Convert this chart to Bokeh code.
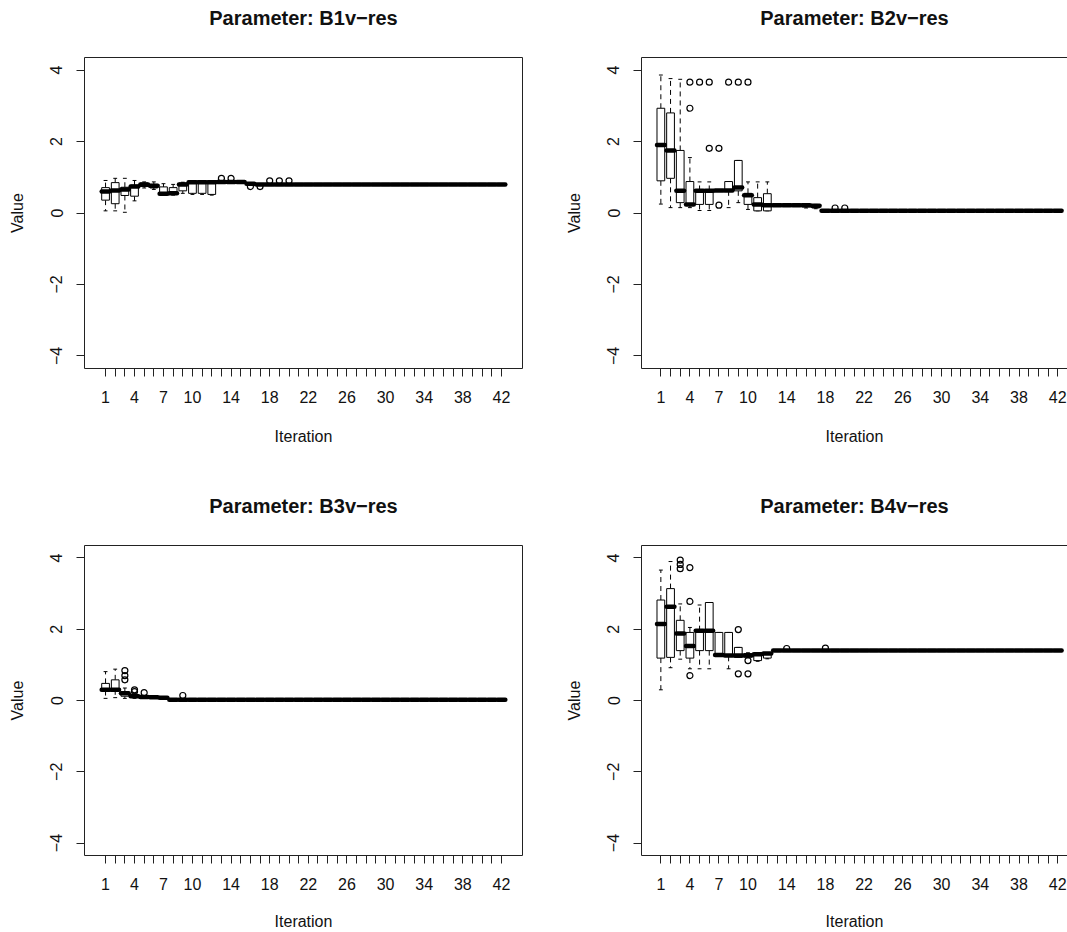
from bokeh.plotting import figure
from bokeh.models import FixedTicker, LinearAxis, Range1d, ColumnDataSource
from bokeh.transform import dodge
from bokeh.layouts import row, column
from bokeh.embed import file_html
from bokeh.resources import INLINE

iters = list(range(1, 43))
x_tick_labels = ["1", "4", "7", "10", "14", "18", "22", "26", "30", "34", "38", "42"]
y_ticks = [-4, -2, 0, 2, 4]

titles = ["Parameter: B1v\u2212res", "Parameter: B2v\u2212res",
          "Parameter: B3v\u2212res", "Parameter: B4v\u2212res"]

# ---------------- B1v-res ----------------
b1_med = [0.60, 0.63, 0.66, 0.74, 0.80, 0.76, 0.54, 0.55, 0.80, 0.86, 0.86, 0.86,
          0.87, 0.87, 0.87, 0.82, 0.80, 0.80, 0.80, 0.80, 0.80, 0.80, 0.80, 0.80,
          0.80, 0.80, 0.80, 0.80, 0.80, 0.80, 0.80, 0.80, 0.80, 0.80, 0.80, 0.80,
          0.80, 0.80, 0.80, 0.80, 0.80, 0.80]
b1_q1 = [0.36, 0.26, 0.49, 0.47, 0.74, 0.70, 0.52, 0.52, 0.62, 0.55, 0.55, 0.52,
         0.87, 0.87, 0.87, 0.82, 0.80, 0.80, 0.80, 0.80, 0.80, 0.80, 0.80, 0.80,
         0.80, 0.80, 0.80, 0.80, 0.80, 0.80, 0.80, 0.80, 0.80, 0.80, 0.80, 0.80,
         0.80, 0.80, 0.80, 0.80, 0.80, 0.80]
b1_q3 = [0.71, 0.85, 0.72, 0.78, 0.84, 0.80, 0.73, 0.71, 0.84, 0.87, 0.87, 0.87,
         0.87, 0.87, 0.87, 0.82, 0.80, 0.80, 0.80, 0.80, 0.80, 0.80, 0.80, 0.80,
         0.80, 0.80, 0.80, 0.80, 0.80, 0.80, 0.80, 0.80, 0.80, 0.80, 0.80, 0.80,
         0.80, 0.80, 0.80, 0.80, 0.80, 0.80]
b1_lo = [0.06, 0.06, 0.02, 0.34, 0.70, 0.66, 0.50, 0.50, 0.55, 0.52, 0.52, 0.50,
         0.87, 0.87, 0.87, 0.82, 0.80, 0.80, 0.80, 0.80, 0.80, 0.80, 0.80, 0.80,
         0.80, 0.80, 0.80, 0.80, 0.80, 0.80, 0.80, 0.80, 0.80, 0.80, 0.80, 0.80,
         0.80, 0.80, 0.80, 0.80, 0.80, 0.80]
b1_hi = [0.91, 0.97, 0.97, 0.91, 0.87, 0.87, 0.82, 0.80, 0.86, 0.87, 0.87, 0.87,
         0.87, 0.87, 0.87, 0.82, 0.80, 0.80, 0.80, 0.80, 0.80, 0.80, 0.80, 0.80,
         0.80, 0.80, 0.80, 0.80, 0.80, 0.80, 0.80, 0.80, 0.80, 0.80, 0.80, 0.80,
         0.80, 0.80, 0.80, 0.80, 0.80, 0.80]
b1_out_x = [13, 14, 16, 17, 18, 19, 20]
b1_out_y = [0.97, 0.97, 0.74, 0.74, 0.90, 0.90, 0.90]

# ---------------- B2v-res ----------------
b2_med = [1.90, 1.75, 0.62, 0.24, 0.62, 0.62, 0.63, 0.63, 0.71, 0.50, 0.24, 0.22,
          0.22, 0.22, 0.22, 0.22, 0.20, 0.06, 0.06, 0.06, 0.06, 0.06, 0.06, 0.06,
          0.06, 0.06, 0.06, 0.06, 0.06, 0.06, 0.06, 0.06, 0.06, 0.06, 0.06, 0.06,
          0.06, 0.06, 0.06, 0.06, 0.06, 0.06]
b2_q1 = [0.90, 0.97, 0.29, 0.22, 0.24, 0.24, 0.63, 0.62, 0.62, 0.24, 0.06, 0.06,
         0.22, 0.22, 0.22, 0.17, 0.14, 0.06, 0.06, 0.06, 0.06, 0.06, 0.06, 0.06,
         0.06, 0.06, 0.06, 0.06, 0.06, 0.06, 0.06, 0.06, 0.06, 0.06, 0.06, 0.06,
         0.06, 0.06, 0.06, 0.06, 0.06, 0.06]
b2_q3 = [2.93, 2.80, 1.75, 0.88, 0.63, 0.63, 0.63, 0.88, 1.47, 0.55, 0.43, 0.54,
         0.22, 0.22, 0.22, 0.24, 0.22, 0.06, 0.06, 0.06, 0.06, 0.06, 0.06, 0.06,
         0.06, 0.06, 0.06, 0.06, 0.06, 0.06, 0.06, 0.06, 0.06, 0.06, 0.06, 0.06,
         0.06, 0.06, 0.06, 0.06, 0.06, 0.06]
b2_lo = [0.25, 0.15, 0.15, 0.15, 0.07, 0.07, 0.63, 0.15, 0.29, 0.10, 0.06, 0.06,
         0.22, 0.22, 0.22, 0.14, 0.12, 0.06, 0.06, 0.06, 0.06, 0.06, 0.06, 0.06,
         0.06, 0.06, 0.06, 0.06, 0.06, 0.06, 0.06, 0.06, 0.06, 0.06, 0.06, 0.06,
         0.06, 0.06, 0.06, 0.06, 0.06, 0.06]
b2_hi = [3.86, 3.76, 3.74, 1.55, 0.87, 0.87, 0.63, 0.88, 1.47, 0.87, 0.87, 0.87,
         0.22, 0.22, 0.22, 0.26, 0.24, 0.06, 0.06, 0.06, 0.06, 0.06, 0.06, 0.06,
         0.06, 0.06, 0.06, 0.06, 0.06, 0.06, 0.06, 0.06, 0.06, 0.06, 0.06, 0.06,
         0.06, 0.06, 0.06, 0.06, 0.06, 0.06]
b2_out_x = [4, 4, 5, 6, 6, 7, 7, 8, 9, 10, 19, 20]
b2_out_y = [2.93, 3.66, 3.66, 3.66, 1.81, 1.81, 0.22, 3.66, 3.66, 3.66, 0.14, 0.14]

# ---------------- B3v-res ----------------
b3_med = [0.30, 0.30, 0.20, 0.12, 0.10, 0.09, 0.08, 0.02, 0.02, 0.02, 0.02, 0.02,
          0.02, 0.02, 0.02, 0.02, 0.02, 0.02, 0.02, 0.02, 0.02, 0.02, 0.02, 0.02,
          0.02, 0.02, 0.02, 0.02, 0.02, 0.02, 0.02, 0.02, 0.02, 0.02, 0.02, 0.02,
          0.02, 0.02, 0.02, 0.02, 0.02, 0.02]
b3_q1 = [0.28, 0.30, 0.12, 0.10, 0.08, 0.08, 0.07, 0.02, 0.02, 0.02, 0.02, 0.02,
         0.02, 0.02, 0.02, 0.02, 0.02, 0.02, 0.02, 0.02, 0.02, 0.02, 0.02, 0.02,
         0.02, 0.02, 0.02, 0.02, 0.02, 0.02, 0.02, 0.02, 0.02, 0.02, 0.02, 0.02,
         0.02, 0.02, 0.02, 0.02, 0.02, 0.02]
b3_q3 = [0.48, 0.58, 0.24, 0.16, 0.12, 0.10, 0.09, 0.02, 0.02, 0.02, 0.02, 0.02,
         0.02, 0.02, 0.02, 0.02, 0.02, 0.02, 0.02, 0.02, 0.02, 0.02, 0.02, 0.02,
         0.02, 0.02, 0.02, 0.02, 0.02, 0.02, 0.02, 0.02, 0.02, 0.02, 0.02, 0.02,
         0.02, 0.02, 0.02, 0.02, 0.02, 0.02]
b3_lo = [0.06, 0.08, 0.06, 0.06, 0.06, 0.07, 0.06, 0.02, 0.02, 0.02, 0.02, 0.02,
         0.02, 0.02, 0.02, 0.02, 0.02, 0.02, 0.02, 0.02, 0.02, 0.02, 0.02, 0.02,
         0.02, 0.02, 0.02, 0.02, 0.02, 0.02, 0.02, 0.02, 0.02, 0.02, 0.02, 0.02,
         0.02, 0.02, 0.02, 0.02, 0.02, 0.02]
b3_hi = [0.81, 0.88, 0.35, 0.20, 0.14, 0.11, 0.10, 0.02, 0.02, 0.02, 0.02, 0.02,
         0.02, 0.02, 0.02, 0.02, 0.02, 0.02, 0.02, 0.02, 0.02, 0.02, 0.02, 0.02,
         0.02, 0.02, 0.02, 0.02, 0.02, 0.02, 0.02, 0.02, 0.02, 0.02, 0.02, 0.02,
         0.02, 0.02, 0.02, 0.02, 0.02, 0.02]
b3_out_x = [3, 3, 3, 4, 4, 5, 9]
b3_out_y = [0.84, 0.70, 0.58, 0.30, 0.25, 0.22, 0.14]

# ---------------- B4v-res ----------------
b4_med = [2.15, 2.63, 1.88, 1.53, 1.96, 1.96, 1.28, 1.26, 1.26, 1.26, 1.30, 1.32,
          1.40, 1.40, 1.40, 1.40, 1.40, 1.40, 1.40, 1.40, 1.40, 1.40, 1.40, 1.40,
          1.40, 1.40, 1.40, 1.40, 1.40, 1.40, 1.40, 1.40, 1.40, 1.40, 1.40, 1.40,
          1.40, 1.40, 1.40, 1.40, 1.40, 1.40]
b4_q1 = [1.19, 1.21, 1.40, 1.19, 1.40, 1.40, 1.26, 1.24, 1.21, 1.22, 1.12, 1.19,
         1.40, 1.40, 1.40, 1.40, 1.40, 1.40, 1.40, 1.40, 1.40, 1.40, 1.40, 1.40,
         1.40, 1.40, 1.40, 1.40, 1.40, 1.40, 1.40, 1.40, 1.40, 1.40, 1.40, 1.40,
         1.40, 1.40, 1.40, 1.40, 1.40, 1.40]
b4_q3 = [2.82, 3.14, 2.25, 1.91, 1.96, 2.75, 1.91, 1.91, 1.49, 1.32, 1.32, 1.33,
         1.40, 1.40, 1.40, 1.40, 1.40, 1.40, 1.40, 1.40, 1.40, 1.40, 1.40, 1.40,
         1.40, 1.40, 1.40, 1.40, 1.40, 1.40, 1.40, 1.40, 1.40, 1.40, 1.40, 1.40,
         1.40, 1.40, 1.40, 1.40, 1.40, 1.40]
b4_lo = [0.30, 0.92, 1.16, 0.89, 0.89, 0.89, 1.26, 0.89, 1.21, 1.20, 1.10, 1.17,
         1.40, 1.40, 1.40, 1.40, 1.40, 1.40, 1.40, 1.40, 1.40, 1.40, 1.40, 1.40,
         1.40, 1.40, 1.40, 1.40, 1.40, 1.40, 1.40, 1.40, 1.40, 1.40, 1.40, 1.40,
         1.40, 1.40, 1.40, 1.40, 1.40, 1.40]
b4_hi = [3.66, 3.90, 2.71, 2.05, 2.68, 2.75, 1.91, 1.91, 1.49, 1.34, 1.33, 1.34,
         1.40, 1.40, 1.40, 1.40, 1.40, 1.40, 1.40, 1.40, 1.40, 1.40, 1.40, 1.40,
         1.40, 1.40, 1.40, 1.40, 1.40, 1.40, 1.40, 1.40, 1.40, 1.40, 1.40, 1.40,
         1.40, 1.40, 1.40, 1.40, 1.40, 1.40]
b4_out_x = [3, 3, 3, 4, 4, 4, 9, 9, 10, 10, 14, 18]
b4_out_y = [3.94, 3.82, 3.70, 3.73, 2.78, 0.70, 1.99, 0.75, 1.12, 0.75, 1.46, 1.47]

FONT = "Liberation Sans"
INK = "#111111"
LINE = "#222222"
Y0, Y1 = -4.35, 4.35


def bare_axis(label=None, standoff=0):
    # a line-only axis used to draw the frame border (and, above, the panel title)
    ax = LinearAxis(ticker=FixedTicker(ticks=[]), major_label_text_font_size="0px",
                    major_tick_out=0, major_tick_in=0, minor_tick_out=0,
                    minor_tick_in=0, major_tick_line_color=None,
                    major_label_standoff=0, axis_line_color=LINE, axis_line_width=1)
    if label is not None:
        ax.axis_label = label
        ax.axis_label_text_font = FONT
        ax.axis_label_text_font_size = "20px"
        ax.axis_label_text_font_style = "bold"
        ax.axis_label_text_color = INK
        ax.axis_label_standoff = standoff
    return ax


def make_panel(title, med, q1, q3, lo, hi, ox, oy, width, height, mbl, mbr, mbb,
               xr, right_border, xlabel_standoff):
    p = figure(width=width, height=height,
               x_range=Range1d(xr[0], xr[1]), y_range=Range1d(Y0, Y1),
               output_backend="svg", toolbar_location=None, tools="",
               min_border_left=mbl, min_border_right=mbr, min_border_top=57,
               min_border_bottom=mbb)
    p.outline_line_color = None
    p.grid.visible = False
    p.background_fill_color = "white"
    p.border_fill_color = "white"

    xa = p.xaxis[0]
    xa.ticker = FixedTicker(ticks=iters)
    xa.major_label_overrides = {i: "" for i in iters if str(i) not in x_tick_labels}
    xa.axis_line_color = LINE
    xa.major_tick_line_color = LINE
    xa.major_tick_out = 8
    xa.major_tick_in = 0
    xa.minor_tick_out = 0
    xa.minor_tick_in = 0
    xa.major_label_text_font = FONT
    xa.major_label_text_font_size = "16px"
    xa.major_label_text_color = INK
    xa.major_label_standoff = 14
    xa.axis_label = "Iteration"
    xa.axis_label_text_font = FONT
    xa.axis_label_text_font_size = "16px"
    xa.axis_label_text_font_style = "normal"
    xa.axis_label_text_color = INK
    xa.axis_label_standoff = xlabel_standoff

    ya = p.yaxis[0]
    ya.ticker = FixedTicker(ticks=y_ticks)
    ya.axis_line_color = LINE
    ya.major_tick_line_color = LINE
    ya.major_tick_out = 8
    ya.major_tick_in = 0
    ya.minor_tick_out = 0
    ya.minor_tick_in = 0
    ya.major_label_orientation = "vertical"
    ya.major_label_text_font = FONT
    ya.major_label_text_font_size = "16px"
    ya.major_label_text_color = INK
    ya.major_label_standoff = 14
    ya.axis_label = "Value"
    ya.axis_label_text_font = FONT
    ya.axis_label_text_font_size = "16px"
    ya.axis_label_text_font_style = "normal"
    ya.axis_label_text_color = INK
    ya.axis_label_standoff = 22

    p.add_layout(bare_axis(title, 29), "above")
    if right_border:
        p.add_layout(bare_axis(), "right")

    src = ColumnDataSource(dict(x=iters, med=med, q1=q1, q3=q3, lo=lo, hi=hi))
    # whiskers (dashed)
    p.segment(x0="x", y0="q3", x1="x", y1="hi", source=src, line_color="black",
              line_width=1, line_dash="5 4")
    p.segment(x0="x", y0="q1", x1="x", y1="lo", source=src, line_color="black",
              line_width=1, line_dash="5 4")
    # staples
    for col in ("hi", "lo"):
        p.segment(x0=dodge("x", -0.2, range=p.x_range), y0=col,
                  x1=dodge("x", 0.2, range=p.x_range), y1=col,
                  source=src, line_color="black", line_width=1)
    # boxes
    p.vbar(x="x", width=0.8, bottom="q1", top="q3", source=src,
           fill_color="white", line_color="black", line_width=1)
    # medians
    p.segment(x0=dodge("x", -0.4, range=p.x_range), y0="med",
              x1=dodge("x", 0.4, range=p.x_range), y1="med",
              source=src, line_color="black", line_width=4.5, line_cap="round")
    # outliers
    p.scatter(x=ox, y=oy, marker="circle", size=6, fill_color=None,
              line_color="black", line_width=1.2)
    return p


p1 = make_panel(titles[0], b1_med, b1_q1, b1_q3, b1_lo, b1_hi, b1_out_x, b1_out_y,
                541, 488, 84, 19, 120, (-1.18, 44.18), True, 22)
p2 = make_panel(titles[1], b2_med, b2_q1, b2_q3, b2_lo, b2_hi, b2_out_x, b2_out_y,
                526, 488, 100, 0, 120, (-1.0, 43.01), False, 22)
p3 = make_panel(titles[2], b3_med, b3_q1, b3_q3, b3_lo, b3_hi, b3_out_x, b3_out_y,
                541, 444, 84, 19, 76, (-1.18, 44.18), True, 20)
p4 = make_panel(titles[3], b4_med, b4_q1, b4_q3, b4_lo, b4_hi, b4_out_x, b4_out_y,
                526, 444, 100, 0, 76, (-1.0, 43.01), False, 20)

layout = column(row(p1, p2), row(p3, p4))

open("out.html", "w").write(file_html(layout, INLINE))
